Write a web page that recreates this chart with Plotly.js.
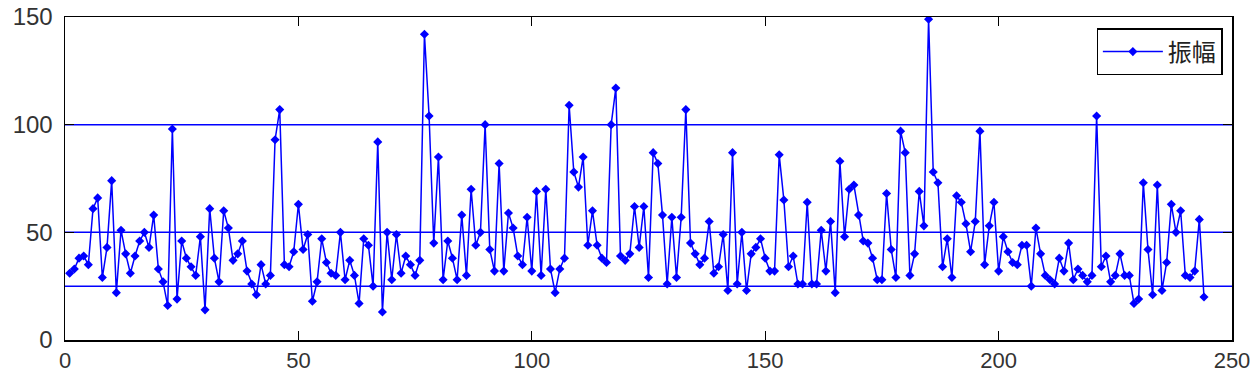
<!DOCTYPE html>
<html>
<head>
<meta charset="utf-8">
<script src="https://cdn.plot.ly/plotly-3.0.1.min.js"></script>
<style>html,body{margin:0;padding:0;background:#fff;}#chart{width:1260px;height:375px;}</style>
</head>
<body>
<div id="chart"></div>
<script>
const seriesName = "振幅";
const amplitude = [
 31,33,38,39,35,61,66,29,43,74,
 22,51,40,31,39,46,50,43,58,33,
 27,16,98,19,46,38,34,30,48,14,
 61,38,27,60,52,37,40,46,32,26,
 21,35,26,30,93,107,35,34,41,63,
 42,49,18,27,47,36,31,30,50,28,
 37,30,17,47,44,25,92,13,50,28,
 49,31,39,35,30,37,142,104,45,85,
 28,46,38,28,58,30,70,44,50,100,
 42,32,82,32,59,52,39,35,57,32,
 69,30,70,33,22,33,38,109,78,71,
 85,44,60,44,38,36,100,117,39,37,
 40,62,43,62,29,87,82,58,26,57,
 29,57,107,45,40,35,38,55,31,34,
 49,23,87,26,50,23,40,43,47,38,
 32,32,86,65,34,39,26,26,64,26,
 26,51,32,55,22,83,48,70,72,58,
 46,45,38,28,28,68,42,29,97,87,
 30,40,69,53,149,78,73,34,47,29,
 67,64,54,41,55,97,35,53,64,32,
 48,41,36,35,44,44,25,52,40,30,
 28,26,38,32,45,28,33,30,27,30,
 104,34,39,27,30,40,30,30,17,19,
 73,42,21,72,23,36,63,50,60,30,
 29,32,56,20
];
const sampleIndex = amplitude.map((_, i) => i + 1);
const refLevels = [25, 50, 100];
const xTicks = [0, 50, 100, 150, 200, 250];
const yTicks = [0, 50, 100, 150];

const blue = "#0000ff";
const shapes = refLevels.map(v => ({
  type: "line", xref: "paper", x0: 0, x1: 1, yref: "y", y0: v, y1: v,
  line: {color: blue, width: 1.5}, layer: "below"
}));

const trace = {
  x: sampleIndex, y: amplitude, name: seriesName, type: "scatter",
  mode: "lines+markers",
  line: {color: blue, width: 1.5},
  marker: {symbol: "diamond", size: 7, color: blue},
  showlegend: true
};

const axisCommon = {
  showgrid: false, zeroline: false, showline: true, linecolor: "#000", linewidth: 1.5,
  mirror: "allticks", ticks: "inside", ticklen: 9, tickcolor: "#000", tickwidth: 1.2,
  tickfont: {family: "Liberation Sans, Arial, sans-serif", size: 24, color: "#333"}
};

const layout = {
  width: 1260, height: 375,
  margin: {l: 65, r: 28, t: 17, b: 35},
  paper_bgcolor: "#fff", plot_bgcolor: "#fff",
  xaxis: Object.assign({}, axisCommon, {range: [0, 250], tickvals: xTicks, ticktext: xTicks.map(String), ticklabelstandoff: 0,
    tickfont: {family: "Liberation Sans, Arial, sans-serif", size: 22, color: "#333"}}),
  yaxis: Object.assign({}, axisCommon, {range: [0, 150], tickvals: yTicks, ticktext: yTicks.map(String), ticklabelstandoff: 6}),
  shapes: shapes,
  showlegend: true,
  legend: {
    x: 0.992, xanchor: "right", y: 0.965, yanchor: "top",
    bgcolor: "#fff", bordercolor: "#000", borderwidth: 1.2,
    font: {family: "Noto Sans CJK SC, sans-serif", size: 24, color: "#222"},
    itemwidth: 60
  }
};

Plotly.newPlot("chart", [trace], layout, {displayModeBar: false, staticPlot: true});
</script>
</body>
</html>
